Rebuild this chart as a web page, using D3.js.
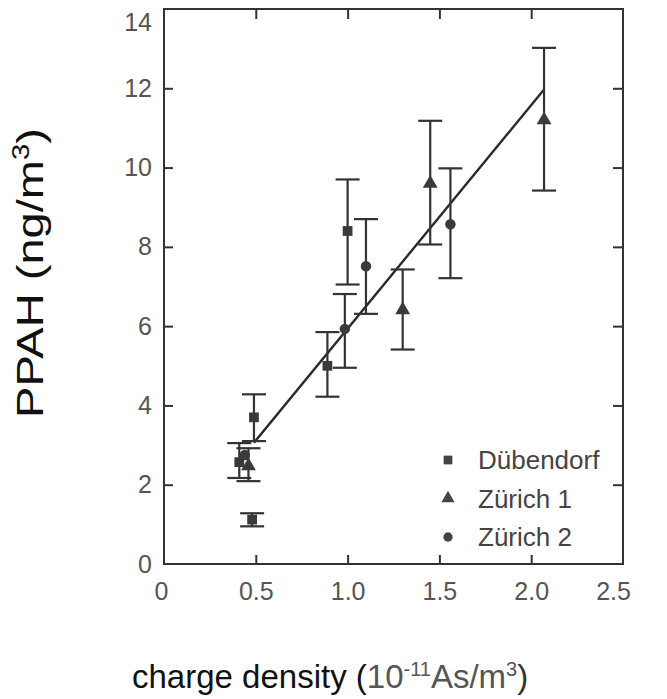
<!DOCTYPE html>
<html>
<head>
<meta charset="utf-8">
<script src="https://cdn.jsdelivr.net/npm/d3@7"></script>
<style>
  html, body { margin: 0; padding: 0; background: #fff; }
  svg { display: block; }
  text { font-family: "Liberation Sans", Arial, Helvetica, sans-serif; }
</style>
</head>
<body>
<svg id="chart" width="667" height="699"></svg>
<script>
// ---- data ----
const seriesNames = ["Dübendorf", "Zürich 1", "Zürich 2"];
const seriesShapes = ["square", "triangle", "circle"];

const dubX  = [0.41, 0.49, 0.48, 0.89, 1.00];
const dubY  = [2.57, 3.70, 1.12, 5.00, 8.40];
const dubLo = [2.17, 3.10, 0.95, 4.22, 7.05];
const dubHi = [3.05, 4.28, 1.28, 5.85, 9.70];

const z1X  = [0.46, 1.30, 1.45, 2.07];
const z1Y  = [2.47, 6.41, 9.60, 11.20];
const z1Lo = [2.09, 5.41, 8.06, 9.42];
const z1Hi = [2.92, 7.43, 11.18, 13.02];

const z2X  = [0.44, 0.985, 1.10, 1.56];
const z2Y  = [2.75, 5.93, 7.51, 8.57];
const z2Lo = [null, 4.95, 6.31, 7.21];
const z2Hi = [null, 6.81, 8.70, 9.98];

const fitX = [0.49, 2.07];
const fitY = [3.06, 11.97];

const xTicks = [0, 0.5, 1.0, 1.5, 2.0, 2.5];
const xTickLabels = ["0", "0.5", "1.0", "1.5", "2.0", "2.5"];
const yTicks = [0, 2, 4, 6, 8, 10, 12, 14];

// ---- layout ----
const svg = d3.select("#chart");
const mLeft = 164, mRight = 623, mTop = 9, mBottom = 564;
const x = d3.scaleLinear().domain([0, 2.5]).range([mLeft, mRight]);
const y = d3.scaleLinear().domain([0, 14]).range([mBottom, mTop]);

const ink = "#333";
const tickColor = "#555";

// frame
svg.append("rect")
  .attr("x", mLeft).attr("y", mTop)
  .attr("width", mRight - mLeft).attr("height", mBottom - mTop)
  .attr("fill", "none").attr("stroke", ink).attr("stroke-width", 2);

function styleAxis(g) {
  g.select(".domain").remove();
  g.selectAll(".tick line").attr("stroke", ink).attr("stroke-width", 2);
  g.selectAll(".tick text")
    .attr("fill", tickColor)
    .style("font-size", "25px");
}

// bottom axis
const gx = svg.append("g").attr("transform", `translate(0,${mBottom})`)
  .call(d3.axisBottom(x).tickValues(xTicks)
    .tickFormat((d, i) => xTickLabels[i]).tickSizeInner(-9).tickSizeOuter(0).tickPadding(18));
styleAxis(gx);
gx.selectAll(".tick").filter(d => d === 0 || d === 2.5).select("line").remove();
gx.selectAll(".tick").filter(d => d === 2.5).select("text").attr("dx", -10);
gx.selectAll(".tick").filter(d => d === 0).select("text").attr("dx", -3);

// top axis (ticks only)
const gxt = svg.append("g").attr("transform", `translate(0,${mTop})`)
  .call(d3.axisTop(x).tickValues(xTicks.filter(d => d > 0 && d < 2.5))
    .tickFormat("").tickSizeInner(-10).tickSizeOuter(0));
styleAxis(gxt);

// left axis
const gy = svg.append("g").attr("transform", `translate(${mLeft},0)`)
  .call(d3.axisLeft(y).tickValues(yTicks).tickFormat(d3.format("d"))
    .tickSizeInner(-9).tickSizeOuter(0).tickPadding(12));
styleAxis(gy);
gy.selectAll(".tick").filter(d => d === 0 || d === 14).select("line").remove();
gy.selectAll(".tick").filter(d => d === 14).select("text").attr("dy", "0.85em");

// right axis (ticks only)
const gyr = svg.append("g").attr("transform", `translate(${mRight},0)`)
  .call(d3.axisRight(y).tickValues(yTicks.filter(d => d > 0 && d < 14))
    .tickFormat("").tickSizeInner(-10).tickSizeOuter(0));
styleAxis(gyr);

// fit line
svg.append("line")
  .attr("x1", x(fitX[0])).attr("y1", y(fitY[0]))
  .attr("x2", x(fitX[1])).attr("y2", y(fitY[1]))
  .attr("stroke", "#2a2a2a").attr("stroke-width", 2.4);

// build point table
const points = [];
function addSeries(si, xs, ys, lo, hi) {
  xs.forEach((v, i) => points.push({ s: si, x: v, y: ys[i], lo: lo[i], hi: hi[i] }));
}
addSeries(0, dubX, dubY, dubLo, dubHi);
addSeries(1, z1X, z1Y, z1Lo, z1Hi);
addSeries(2, z2X, z2Y, z2Lo, z2Hi);

// error bars
const capHalf = 12;
const eb = svg.append("g").attr("stroke", ink).attr("stroke-width", 2.2).attr("fill", "none");
points.filter(p => p.lo != null).forEach(p => {
  const px = x(p.x);
  eb.append("line").attr("x1", px).attr("x2", px).attr("y1", y(p.lo)).attr("y2", y(p.hi));
  eb.append("line").attr("x1", px - capHalf).attr("x2", px + capHalf).attr("y1", y(p.lo)).attr("y2", y(p.lo));
  eb.append("line").attr("x1", px - capHalf).attr("x2", px + capHalf).attr("y1", y(p.hi)).attr("y2", y(p.hi));
});

// markers
const symType = { square: d3.symbolSquare, triangle: d3.symbolTriangle, circle: d3.symbolCircle };
const symSize = { square: 95, triangle: 95, circle: 85 };
function marker(shape, scale) {
  return d3.symbol().type(symType[shape]).size(symSize[shape] * (scale || 1))();
}
svg.append("g").selectAll("path").data(points).join("path")
  .attr("d", p => marker(seriesShapes[p.s]))
  .attr("transform", p => `translate(${x(p.x)},${y(p.y)})`)
  .attr("fill", "#3a3a3a");

// legend
const legend = svg.append("g").attr("transform", "translate(448,460)");
seriesNames.forEach((name, i) => {
  const row = legend.append("g").attr("transform", `translate(0,${i * 38.5})`);
  row.append("path").attr("d", marker(seriesShapes[i], 0.8)).attr("fill", "#444");
  row.append("text").attr("x", 30).attr("y", 9)
    .attr("fill", "#444").style("font-size", "26px").text(name);
});

// x axis title
const xt = svg.append("text").attr("x", 132).attr("y", 688)
  .style("font-size", "33px");
xt.append("tspan").attr("fill", "#111").text("charge density (");
xt.append("tspan").attr("fill", "#555").text("10");
xt.append("tspan").attr("fill", "#555").attr("dy", -12).style("font-size", "20px").text("-11");
xt.append("tspan").attr("fill", "#555").attr("dy", 12).text("As/m");
xt.append("tspan").attr("fill", "#555").attr("dy", -12).style("font-size", "20px").text("3");
xt.append("tspan").attr("fill", "#333").attr("dy", 12).text(")");

// y axis title
const yt = svg.append("text").attr("transform", "translate(43,418) rotate(-90)")
  .style("font-size", "37px").attr("textLength", 290).attr("lengthAdjust", "spacingAndGlyphs")
  .attr("fill", "#111");
yt.append("tspan").text("PPAH (ng/m");
yt.append("tspan").attr("dy", -14).style("font-size", "23px").text("3");
yt.append("tspan").attr("dy", 14).text(")");
</script>
</body>
</html>
